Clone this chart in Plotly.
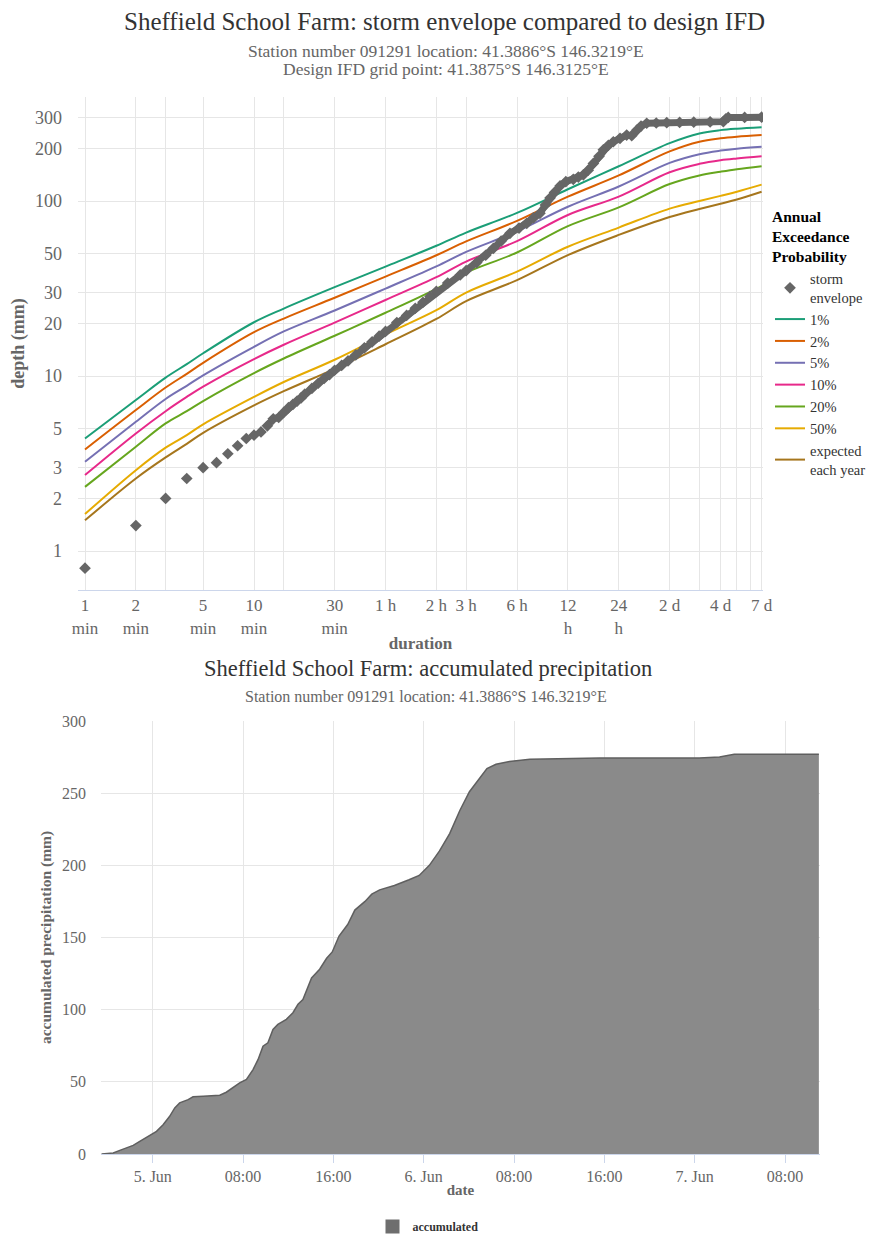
import plotly.graph_objects as go

# ---------------- data: design IFD (depth mm) ----------------
durations = [1, 2, 3, 4, 5, 10, 15, 30, 60, 120, 180, 360, 720, 1440, 2880, 4320, 5760, 7200, 10080]
aep_names = ["1%", "2%", "5%", "10%", "20%", "50%", "expected<br>each year"]
aep_colors = ["#1b9e77", "#d95f02", "#7570b3", "#e7298a", "#66a61e", "#e6ab02", "#a6761d"]
ifd_1 = [4.4, 7.3, 9.8, 11.7, 13.5, 20.3, 24.3, 32.2, 42.2, 55.5, 66.0, 85.5, 116.7, 158, 214, 243, 254, 259, 264]
ifd_2 = [3.81, 6.4, 8.6, 10.3, 11.9, 17.8, 21.3, 28.0, 37.0, 49.0, 58.8, 77.0, 105.8, 140, 192, 218, 228, 233, 238]
ifd_5 = [3.24, 5.48, 7.4, 8.8, 10.1, 14.7, 18.0, 23.7, 31.6, 42.3, 51.2, 67.0, 92.7, 121, 165, 185, 194, 199, 204]
ifd_10 = [2.72, 4.7, 6.3, 7.6, 8.7, 12.5, 15.1, 20.2, 27.2, 36.7, 45.1, 59.0, 83.2, 106, 146, 163, 171, 175, 180]
ifd_20 = [2.33, 3.95, 5.37, 6.3, 7.2, 10.4, 12.6, 17.0, 23.0, 31.5, 39.0, 50.8, 71.9, 92, 125, 140, 147, 152, 158]
ifd_50 = [1.63, 2.9, 3.9, 4.6, 5.3, 7.6, 9.25, 12.4, 17.3, 23.8, 30.0, 39.5, 54.8, 70.5, 90.5, 100, 107, 113, 124]
ifd_ey = [1.50, 2.6, 3.43, 4.1, 4.74, 6.8, 8.2, 11.0, 15.2, 21.2, 26.8, 35.3, 49.1, 64, 81, 90, 96.5, 102, 113]
ifd_series = [ifd_1, ifd_2, ifd_5, ifd_10, ifd_20, ifd_50, ifd_ey]

# ---------------- data: storm envelope ----------------
env_dur = [1, 2, 3, 4, 5, 6, 7, 8, 9, 10, 11, 12, 13, 14, 15, 16, 17, 18, 19, 20,
           22, 24, 26, 28, 30, 33, 36, 40, 45, 50, 55, 60, 70, 80, 90, 100, 110, 120,
           140, 166, 180, 208, 235, 261, 290, 327, 370, 411, 450, 492, 530, 564, 600,
           647, 700, 775, 830, 889, 950, 1019, 1100, 1167, 1250, 1337, 1465, 1604,
           1718, 1850, 1950, 2107, 2400, 2768, 3300, 4000, 5000, 5985, 6200, 6400,
           8000, 10080]
env_mm = [0.8, 1.4, 2.0, 2.6, 3.0, 3.2, 3.6, 4.0, 4.4, 4.6, 4.8, 5.2, 5.7, 5.8, 6.2, 6.6, 6.9, 7.2, 7.5, 7.9,
          8.5, 9.1, 9.7, 10.2, 10.8, 11.5, 12.2, 13.2, 14.5, 15.7, 16.9, 18.0, 20.2, 22.2, 24.4, 26.4, 28.5, 30.5,
          34.0, 37.8, 40.0, 44.5, 49, 53.7, 59, 65.4, 70, 74.6, 80, 85, 95, 104, 112,
          122, 129, 133, 137, 141, 150, 164, 180, 196, 208, 218, 228, 238,
          236, 255, 268, 278, 279, 280, 281, 282, 283, 284, 295, 300,
          300, 301]

# ---------------- data: accumulated precipitation ----------------
acc_time = ["2016-06-04 19:28", "2016-06-04 20:30", "2016-06-04 21:05", "2016-06-04 21:40",
            "2016-06-04 22:16", "2016-06-04 22:51", "2016-06-04 23:35", "2016-06-05 00:20",
            "2016-06-05 00:55", "2016-06-05 01:30", "2016-06-05 01:57", "2016-06-05 02:23",
            "2016-06-05 03:08", "2016-06-05 03:34", "2016-06-05 04:28", "2016-06-05 05:56",
            "2016-06-05 06:31", "2016-06-05 07:07", "2016-06-05 07:42", "2016-06-05 08:18",
            "2016-06-05 08:53", "2016-06-05 09:20", "2016-06-05 09:46", "2016-06-05 10:12",
            "2016-06-05 10:39", "2016-06-05 11:05", "2016-06-05 11:50", "2016-06-05 12:25",
            "2016-06-05 12:52", "2016-06-05 13:18", "2016-06-05 14:04", "2016-06-05 14:47",
            "2016-06-05 15:24", "2016-06-05 15:54", "2016-06-05 16:30", "2016-06-05 17:16",
            "2016-06-05 17:54", "2016-06-05 18:48", "2016-06-05 19:24", "2016-06-05 20:06",
            "2016-06-05 21:24", "2016-06-05 22:42", "2016-06-05 23:36", "2016-06-06 00:30",
            "2016-06-06 01:24", "2016-06-06 02:18", "2016-06-06 03:12", "2016-06-06 04:03",
            "2016-06-06 04:54", "2016-06-06 05:36", "2016-06-06 06:24", "2016-06-06 07:36",
            "2016-06-06 09:24", "2016-06-06 15:36", "2016-06-07 00:24", "2016-06-07 02:12",
            "2016-06-07 03:30", "2016-06-07 11:00"]
acc_mm = [0, 0.7, 2.5, 4.2, 6.0, 8.8, 12.2, 15.7,
          20.3, 26.1, 31.9, 35.4, 37.7, 39.6, 40, 40.7,
          42.8, 45.8, 49.3, 51.6, 58.5, 65.5, 74.7, 77,
          86.3, 89.8, 93.3, 97.9, 103.7, 107, 122, 128,
          135.6, 140, 151, 159, 169, 175, 180, 183,
          186, 190, 193, 200, 210, 222, 238, 251,
          260, 267, 270, 272, 273.5, 274.3, 274.3, 275,
          277, 277]

# ---------------- tick labels ----------------
dur_tickvals = [1, 2, 3, 5, 10, 15, 30, 60, 120, 180, 360, 720, 1440, 2880, 4320, 5760, 7200, 8640, 10080]
dur_ticktext = ["1<br>min", "2<br>min", "", "5<br>min", "10<br>min", "", "30<br>min", "1 h", "2 h", "3 h",
                "6 h", "12<br>h", "24<br>h", "2 d", "", "4 d", "", "", "7 d"]
depth_tickvals = [1, 2, 3, 5, 10, 20, 30, 50, 100, 200, 300]
date_tickvals = ["2016-06-05 00:00", "2016-06-05 08:00", "2016-06-05 16:00", "2016-06-06 00:00",
                 "2016-06-06 08:00", "2016-06-06 16:00", "2016-06-07 00:00", "2016-06-07 08:00"]
date_ticktext = ["5. Jun", "08:00", "16:00", "6. Jun", "08:00", "16:00", "7. Jun", "08:00"]

FONT = "Liberation Serif"
GRID = "#e6e6e6"
AXIS = "#ccd6eb"
OFF = 8                      # page body margin
W, H = 879 - OFF, 1240 - OFF

fig = go.Figure()

for name, color, vals, rank in zip(aep_names, aep_colors, ifd_series, range(2, 9)):
    fig.add_trace(go.Scatter(x=durations, y=vals, name=name, mode="lines",
                             line=dict(color=color, width=2, shape="spline", smoothing=1.0),
                             legend="legend", legendrank=rank, xaxis="x", yaxis="y"))

# dense part of envelope drawn as thick band (no legend)
band_start = env_dur.index(12)
fig.add_trace(go.Scatter(x=env_dur[band_start:], y=env_mm[band_start:], mode="lines",
                         line=dict(color="#666666", width=7), showlegend=False,
                         xaxis="x", yaxis="y", hoverinfo="skip"))
fig.add_trace(go.Scatter(x=env_dur, y=env_mm, name="storm<br>envelope", mode="markers",
                         marker=dict(symbol="diamond", size=9, color="#666666"),
                         legend="legend", legendrank=1, xaxis="x", yaxis="y"))

fig.add_trace(go.Scatter(x=acc_time, y=acc_mm, name="accumulated", mode="lines",
                         fill="tozeroy", fillcolor="#8a8a8a",
                         line=dict(color="#5f5f5f", width=1.5), showlegend=False,
                         xaxis="x2", yaxis="y2"))
# legend entry (square swatch) for the area series
fig.add_trace(go.Scatter(x=[None], y=[None], name="accumulated", mode="markers",
                         marker=dict(symbol="square", size=14, color="#6e6e6e"),
                         legend="legend2", xaxis="x2", yaxis="y2"))


def px_x(p):
    return (p - OFF) / W


def px_y(p):
    return 1 - (p - OFF) / H


def ann(text, x, y, size, color):
    return dict(text=text, x=px_x(x), y=px_y(y), xref="paper", yref="paper", showarrow=False,
                xanchor="center", yanchor="middle", font=dict(size=size, color=color))


fig.update_layout(
    width=W, height=H, margin=dict(l=0, r=0, t=0, b=0, autoexpand=False),
    paper_bgcolor="white", plot_bgcolor="white",
    font=dict(family=FONT, color="#666666", size=16),
    showlegend=True,
    xaxis=dict(type="log", domain=[px_x(78), px_x(763)], range=[-0.0414, 4.0118],
               tickmode="array", tickvals=dur_tickvals, ticktext=dur_ticktext,
               showgrid=True, gridcolor=GRID, gridwidth=1, automargin=False,
               showline=True, linecolor=AXIS, linewidth=1, ticks="", zeroline=False,
               tickfont=dict(size=17, color="#666666"),
               title=dict(text="duration", font=dict(size=17, color="#666666", weight="bold"), standoff=0),
               anchor="y"),
    yaxis=dict(type="log", domain=[px_y(590), px_y(97)], range=[-0.2218, 2.594],
               tickmode="array", tickvals=depth_tickvals, ticktext=[str(v) for v in depth_tickvals],
               showgrid=True, gridcolor=GRID, gridwidth=1, showline=False, zeroline=False,
               ticks="", ticklabelstandoff=15, automargin=False,
               tickfont=dict(size=18, color="#666666"),
               title=dict(text="depth (mm)", font=dict(size=18, color="#666666", weight="bold"), standoff=18),
               anchor="x"),
    xaxis2=dict(type="date", domain=[px_x(101), px_x(820)],
                range=["2016-06-04 19:25", "2016-06-07 11:06"],
                tickmode="array", tickvals=date_tickvals, ticktext=date_ticktext,
                showgrid=True, gridcolor=GRID, gridwidth=1, automargin=False,
                showline=True, linecolor=AXIS, linewidth=1, ticks="outside", ticklen=8, tickcolor=AXIS,
                zeroline=False, tickfont=dict(size=16, color="#666666"),
                title=dict(text="date", font=dict(size=15, color="#666666", weight="bold"), standoff=0),
                anchor="y2"),
    yaxis2=dict(domain=[px_y(1154), px_y(721)], range=[0, 300], tickmode="linear", dtick=50,
                showgrid=True, gridcolor=GRID, gridwidth=1, showline=False, zeroline=False,
                ticks="", ticklabelstandoff=14, automargin=False,
                tickfont=dict(size=16, color="#666666"),
                title=dict(text="accumulated precipitation (mm)",
                           font=dict(size=15.5, color="#666666", weight="bold"), standoff=6),
                anchor="x2"),
    legend=dict(x=px_x(770), y=px_y(202), xanchor="left", yanchor="top",
                font=dict(size=14.5, color="#333333"), itemwidth=30, tracegroupgap=0,
                bgcolor="rgba(0,0,0,0)",
                title=dict(text="<b>Annual<br>Exceedance<br>Probability</b>",
                           font=dict(size=15.5, color="#000000"))),
    legend2=dict(orientation="h", x=px_x(428), xanchor="center", y=px_y(1241), yanchor="bottom",
                 font=dict(size=12, color="#333333", weight="bold"), itemwidth=30,
                 bgcolor="rgba(0,0,0,0)"),
    annotations=[
        ann("Sheffield School Farm: storm envelope compared to design IFD", 444, 22, 25, "#333333"),
        ann("Station number 091291 location: 41.3886°S 146.3219°E", 446, 51, 17.5, "#666666"),
        ann("Design IFD grid point: 41.3875°S 146.3125°E", 446, 69, 17.5, "#666666"),
        ann("Sheffield School Farm: accumulated precipitation", 428, 668, 22.5, "#333333"),
        ann("Station number 091291 location: 41.3886°S 146.3219°E", 426, 696, 16, "#666666"),
    ],
)

fig.write_html("out.html")
